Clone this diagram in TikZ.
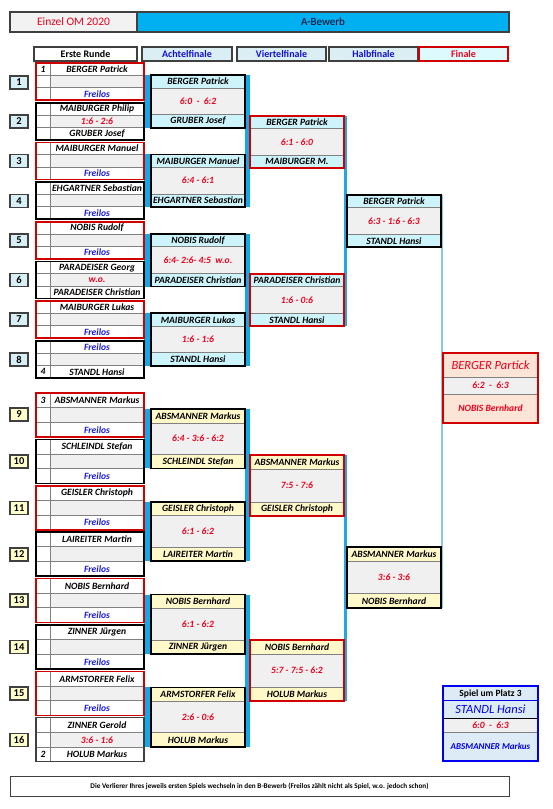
\documentclass[tikz,border=0pt]{standalone}
\usepackage{fontspec}
\setmainfont{Carlito}
\definecolor{hdrcyan}{HTML}{00B0F0}
\definecolor{barblue}{HTML}{12A9E6}
\definecolor{vlineblue}{HTML}{22A8E0}
\definecolor{hlineblue}{HTML}{8CC8DC}
\definecolor{hdrgray}{HTML}{F2F2F2}
\definecolor{colfill}{HTML}{DAEEF3}
\definecolor{colblue}{HTML}{1010D8}
\definecolor{finfill}{HTML}{DDFBFF}
\definecolor{nmcyan}{HTML}{CCF4FA}
\definecolor{nmyellow}{HTML}{FFF8C8}
\definecolor{numcyan}{HTML}{D6F0F6}
\definecolor{numyellow}{HTML}{FFFFCC}
\definecolor{scoregray}{HTML}{F0F0F0}
\definecolor{scred}{HTML}{F0001C}
\definecolor{boxred}{HTML}{D00000}
\definecolor{frblue}{HTML}{1A1AE0}
\definecolor{peach}{HTML}{FCE4D6}
\definecolor{pthreefill}{HTML}{DDEBF7}
\definecolor{pthreeblue}{HTML}{0000F0}
\definecolor{rowline}{HTML}{808080}
\definecolor{frame}{HTML}{404040}
\pgfdeclarelayer{bg}
\pgfsetlayers{bg,main}
\newcommand{\FL}{\textcolor{frblue}{Freilos}}
% first-round group: id, top, height, border colour, seed top, seed bottom, top text, middle text, bottom text
\newcommand{\FR}[9]{%
  \pgfmathsetmacro{\rh}{#3/3}%
  \fill[white] (36,#2) rectangle (144,{#2+#3});
  \fill[scoregray] (50,{#2+\rh}) rectangle (144,{#2+2*\rh});
  \draw[rowline, line width=1pt] (36,{#2+\rh}) -- (144,{#2+\rh}) (36,{#2+2*\rh}) -- (144,{#2+2*\rh}) (50,#2) -- (50,{#2+#3});
  \draw[#4] (36,#2) rectangle (144,{#2+#3});
  \node[nm] (#1s1) at (43,{#2+\rh/2}) {#5};
  \node[nm] (#1s2) at (43,{#2+2.5*\rh}) {#6};
  \node[nm] (#1a) at (97,{#2+\rh/2}) {#7};
  \node[sc] (#1m) at (97,{#2+1.5*\rh}) {#8};
  \node[nm] (#1b) at (97,{#2+2.5*\rh}) {#9};
}
% match box: id, x1, top, bottom, row height, scheme, top name, score, bottom name
\newcommand{\MB}[9]{%
  \tikzset{#6}%
  \coordinate (#1nw) at (#2,#3);
  \coordinate (#1se) at ({#2+94},#4);
  \coordinate (#1ne) at ({#2+94},#3);
  \coordinate (#1sw) at (#2,#4);
  \fill[scoregray] (#1nw) rectangle (#1se);
  \fill[\namefill] (#1nw) rectangle ({#2+94},{#3+#5});
  \fill[\namefill] (#2,{#4-#5}) rectangle (#1se);
  \draw[rowline, line width=1pt] (#2,{#3+#5}) -- ({#2+94},{#3+#5}) (#2,{#4-#5}) -- ({#2+94},{#4-#5});
  \draw[\bordc, line width=1.6pt] (#1nw) rectangle (#1se);
  \node[nm] (#1a) at ({#2+47},{#3+#5/2}) {#7};
  \node[sc] (#1s) at ({#2+47},{(#3+#4)/2}) {#8};
  \node[nm] (#1b) at ({#2+47},{#4-#5/2}) {#9};
}
\begin{document}
\begin{tikzpicture}[x=1pt,y=-1pt,
  nm/.style={font=\fontsize{9.6}{10}\selectfont\bfseries\itshape, inner sep=0pt, text=black},
  sc/.style={font=\fontsize{9.6}{10}\selectfont\bfseries\itshape, inner sep=0pt, text=scred},
  numbox/.style={draw=frame, line width=1.2pt, minimum width=18, minimum height=13, inner sep=0pt, font=\fontsize{10.5}{11}\selectfont\bfseries},
  colhdr/.style={draw=frame, line width=1.2pt, fill=colfill, minimum height=14, inner sep=0pt, font=\fontsize{10}{11}\selectfont\bfseries, text=colblue},
  topA/.code={\def\namefill{nmcyan}\def\bordc{black}},
  botA/.code={\def\namefill{nmyellow}\def\bordc{black}},
  topV/.code={\def\namefill{nmcyan}\def\bordc{boxred}},
  botV/.code={\def\namefill{nmyellow}\def\bordc{boxred}},
  redgrp/.style={draw=boxred, line width=1.6pt},
  blkgrp/.style={draw=black, line width=1.6pt},
  graygrp/.style={draw=frame, line width=1.1pt}
]
\useasboundingbox (0,0) rectangle (552,809);
\begin{pgfonlayer}{bg}
  \fill[white] (0,0) rectangle (552,809);
\end{pgfonlayer}

% title bar
\node[draw=frame, line width=1.2pt, fill=hdrgray, minimum width=127, minimum height=20, inner sep=0pt,
  font=\fontsize{11.5}{12}\selectfont, text=scred] (title) at (73.5,22) {Einzel OM 2020};
\node[draw=frame, line width=1.2pt, fill=hdrcyan, minimum width=372, minimum height=20, inner sep=0pt,
  font=\fontsize{11}{12}\selectfont, text=black!85!blue] (bewerb) at (323,22) {A-Bewerb};

% column headers
\node[colhdr, fill=white, text=black, minimum width=103] (h0) at (85.5,54) {Erste Runde};
\node[colhdr, minimum width=90] (h1) at (187,54) {Achtelfinale};
\node[colhdr, minimum width=89] (h2) at (281.5,54) {Viertelfinale};
\node[colhdr, minimum width=89] (h3) at (373.5,54) {Halbfinale};
\node[colhdr, draw=boxred, fill=finfill, text=scred, minimum width=89] (h4) at (463.5,54) {Finale};

% first round, top half
\FR{g1}{63}{37}{redgrp}{1}{}{BERGER Patrick}{}{\FL}
\FR{g2}{102.7}{37}{blkgrp}{}{}{MAIBURGER Philip}{1:6 - 2:6}{GRUBER Josef}
\FR{g3}{142.4}{37}{redgrp}{}{}{MAIBURGER Manuel}{}{\FL}
\FR{g4}{182.1}{37}{blkgrp}{}{}{EHGARTNER Sebastian}{}{\FL}
\FR{g5}{221.8}{37}{redgrp}{}{}{NOBIS Rudolf}{}{\FL}
\FR{g6}{261.5}{37}{blkgrp}{}{}{PARADEISER Georg}{w.o.}{PARADEISER Christian}
\FR{g7}{301.2}{37}{redgrp}{}{}{MAIBURGER Lukas}{}{\FL}
\FR{g8}{340.9}{37}{blkgrp}{}{4}{\FL}{}{STANDL Hansi}
% first round, bottom half
\FR{g9}{393}{44}{redgrp}{3}{}{ABSMANNER Markus}{}{\FL}
\FR{g10}{439.4}{44}{blkgrp}{}{}{SCHLEINDL Stefan}{}{\FL}
\FR{g11}{485.8}{44}{redgrp}{}{}{GEISLER Christoph}{}{\FL}
\FR{g12}{532.2}{44}{blkgrp}{}{}{LAIREITER Martin}{}{\FL}
\FR{g13}{578.6}{44}{redgrp}{}{}{NOBIS Bernhard}{}{\FL}
\FR{g14}{625}{44}{blkgrp}{}{}{ZINNER Jürgen}{}{\FL}
\FR{g15}{671.4}{44}{redgrp}{}{}{ARMSTORFER Felix}{}{\FL}
\FR{g16}{717.8}{44}{graygrp}{}{2}{ZINNER Gerold}{3:6 - 1:6}{HOLUB Markus}

% number boxes
\node[numbox, fill=numcyan] (n1) at (19,82.5) {1};
\node[numbox, fill=numcyan] (n2) at (19,121.5) {2};
\node[numbox, fill=numcyan] (n3) at (19,161) {3};
\node[numbox, fill=numcyan] (n4) at (19,201) {4};
\node[numbox, fill=numcyan] (n5) at (19,240.5) {5};
\node[numbox, fill=numcyan] (n6) at (19,280) {6};
\node[numbox, fill=numcyan] (n7) at (19,319.5) {7};
\node[numbox, fill=numcyan] (n8) at (19,359.5) {8};
\node[numbox, fill=numyellow] (n9) at (19,414.5) {9};
\node[numbox, fill=numyellow] (n10) at (19,461.5) {10};
\node[numbox, fill=numyellow] (n11) at (19,508) {11};
\node[numbox, fill=numyellow] (n12) at (19,554.5) {12};
\node[numbox, fill=numyellow] (n13) at (19,600.5) {13};
\node[numbox, fill=numyellow] (n14) at (19,647) {14};
\node[numbox, fill=numyellow] (n15) at (19,693.5) {15};
\node[numbox, fill=numyellow] (n16) at (19,740) {16};

% Achtelfinale
\MB{A1}{151}{75}{127.7}{13}{topA}{BERGER Patrick}{6:0\ \ -\ \ 6:2}{GRUBER Josef}
\MB{A2}{151}{154.4}{207.1}{13}{topA}{MAIBURGER Manuel}{6:4 - 6:1}{EHGARTNER Sebastian}
\MB{A3}{151}{233.8}{286.5}{13}{topA}{NOBIS Rudolf}{6:4- 2:6- 4:5\ \ w.o.}{PARADEISER Christian}
\MB{A4}{151}{313.2}{365.9}{13}{topA}{MAIBURGER Lukas}{1:6 - 1:6}{STANDL Hansi}
\MB{A5}{151}{409}{468.4}{14}{botA}{ABSMANNER Markus}{6:4 - 3:6 - 6:2}{SCHLEINDL Stefan}
\MB{A6}{151}{501.8}{561.2}{14}{botA}{GEISLER Christoph}{6:1 - 6:2}{LAIREITER Martin}
\MB{A7}{151}{594.6}{654}{14}{botA}{NOBIS Bernhard}{6:1 - 6:2}{ZINNER Jürgen}
\MB{A8}{151}{687.4}{746.8}{14}{botA}{ARMSTORFER Felix}{2:6 - 0:6}{HOLUB Markus}

% Viertelfinale
\MB{V1}{250}{116}{168}{12.5}{topV}{BERGER Patrick}{6:1 - 6:0}{MAIBURGER M.}
\MB{V2}{250}{274}{326}{12.5}{topV}{PARADEISER Christian}{1:6 - 0:6}{STANDL Hansi}
\MB{V3}{250}{455}{516}{14}{botV}{ABSMANNER Markus}{7:5 - 7:6}{GEISLER Christoph}
\MB{V4}{250}{640}{701}{14}{botV}{NOBIS Bernhard}{5:7 - 7:5 - 6:2}{HOLUB Markus}

% Halbfinale
\MB{H1}{347}{195}{247}{12.5}{topA}{BERGER Patrick}{6:3 - 1:6 - 6:3}{STANDL Hansi}
\MB{H2}{347}{547}{608}{14.5}{botA}{ABSMANNER Markus}{3:6 - 3:6}{NOBIS Bernhard}

% bracket bars
\begin{pgfonlayer}{bg}
  \foreach \b in {A1,A2,A3,A4,A5,A6,A7,A8}
    \fill[barblue] ([xshift=-7pt]\b nw) rectangle (\b sw);
  \fill[barblue] (A1ne) rectangle ([xshift=5pt]A2se);
  \fill[barblue] (A3ne) rectangle ([xshift=5pt]A4se);
  \fill[barblue] (A5ne) rectangle ([xshift=5pt]A6se);
  \fill[barblue] (A7ne) rectangle ([xshift=5pt]A8se);
  \fill[vlineblue] (V1ne) rectangle ([xshift=3pt]V2se);
  \fill[vlineblue] (V3ne) rectangle ([xshift=3pt]V4se);
  \fill[hlineblue] ([xshift=-0.5pt]H1ne) rectangle ([xshift=1.5pt]H2se);
\end{pgfonlayer}

% Finale
\fill[peach] (443,353) rectangle (538,423);
\fill[scoregray] (443,377) rectangle (538,394);
\draw[rowline, line width=1pt] (443,377) -- (538,377) (443,394) -- (538,394);
\draw[boxred, line width=2pt] (443,353) rectangle (538,423);
\node[inner sep=0pt, font=\fontsize{12.5}{13}\selectfont\itshape, text=scred] (Fa) at (490.5,365.5) {BERGER Partick};
\node[sc] (Fs) at (490.5,385.5) {6:2\ \ -\ \ 6:3};
\node[sc] (Fb) at (490.5,408.5) {NOBIS Bernhard};

% Spiel um Platz 3
\fill[pthreefill] (443,686) rectangle (538,761);
\fill[scoregray] (443,718) rectangle (538,732);
\draw[pthreeblue, line width=1pt] (443,700) -- (538,700);
\draw[black, line width=0.8pt] (443,718) -- (538,718);
\draw[rowline, line width=0.8pt] (443,732) -- (538,732);
\draw[pthreeblue, line width=2pt] (443,686) rectangle (538,761);
\node[inner sep=0pt, font=\fontsize{9.5}{10}\selectfont\bfseries, text=black] (Pt) at (490.5,693.5) {Spiel um Platz 3};
\node[inner sep=0pt, font=\fontsize{12.5}{13}\selectfont\itshape, text=pthreeblue] (Pa) at (490.5,709) {STANDL Hansi};
\node[sc] (Ps) at (490.5,725) {6:0\ \ -\ \ 6:3};
\node[nm, text=pthreeblue, font=\fontsize{9}{9}\selectfont\bfseries\itshape] (Pb) at (490.5,746.5) {ABSMANNER Markus};

% footer note
\node[draw=frame, line width=1pt, fill=white, minimum width=499, minimum height=20, inner sep=0pt,
  font=\fontsize{7.2}{8}\selectfont\bfseries] (note) at (259.5,786)
  {Die Verlierer Ihres jeweils ersten Spiels wechseln in den B-Bewerb (Freilos zählt nicht als Spiel, w.o. jedoch schon)};
\end{tikzpicture}
\end{document}
